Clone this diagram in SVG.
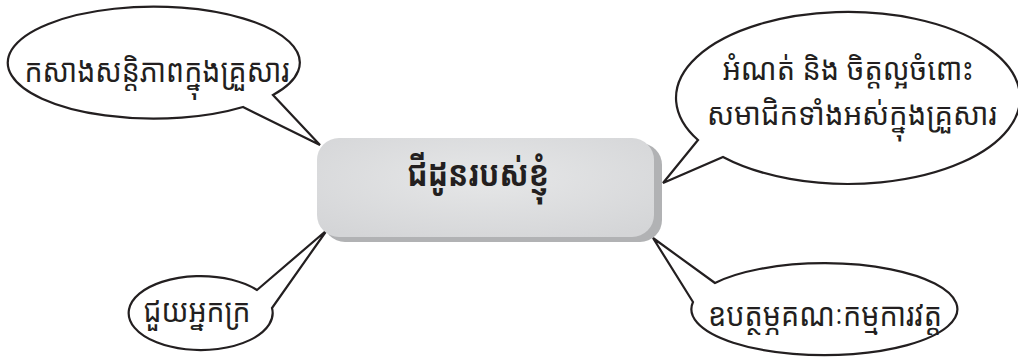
<svg xmlns="http://www.w3.org/2000/svg" width="1018" height="363" viewBox="0 0 1018 363">
<style>
.bub{fill:#fff;stroke:#231f20;stroke-width:2.2;stroke-linejoin:miter}
.t{font-family:"Noto Sans Khmer","Khmer OS","Noto Sans","DejaVu Sans",sans-serif;fill:#231f20;text-anchor:middle}
.lbl{font-size:33px}
.lbl2{font-size:31px}
.title{font-size:36px;font-weight:bold}
</style>
<defs>
<radialGradient id="g" cx="0.5" cy="0.4" r="0.7">
<stop offset="0" stop-color="#e6e7e8"/>
<stop offset="1" stop-color="#d4d5d7"/>
</radialGradient>
</defs>
<g id="connectors"></g>
<g id="n1">
<path class="bub" d="M243,107 L320,145 L273,95 A146,56 0 1 0 243,107 Z"/>
<text class="t lbl" x="157" y="82" textLength="265" lengthAdjust="spacingAndGlyphs">កសាងសន្តិភាពក្នុងគ្រួសារ</text>
</g>
<g id="n2">
<path class="bub" d="M698,140 L663,183 L723,157 A172,86 0 1 0 698,140 Z"/>
<text class="t lbl2" x="848" y="80" textLength="251" lengthAdjust="spacingAndGlyphs">អំណត់ និង ចិត្តល្អចំពោះ</text>
<text class="t lbl2" x="852" y="125" textLength="290" lengthAdjust="spacingAndGlyphs">សមាជិកទាំងអស់ក្នុងគ្រួសារ</text>
</g>
<g id="n3">
<path class="bub" d="M257,290 L327,230 L272,308 A72,37 0 1 1 257,290 Z"/>
<text class="t lbl" x="197" y="322" textLength="107" lengthAdjust="spacingAndGlyphs">ជួយអ្នកក្រ</text>
</g>
<g id="n4">
<path class="bub" d="M715,283 L653,238 L693,302 A133,46 0 1 0 715,283 Z"/>
<text class="t lbl" x="825" y="326" textLength="234" lengthAdjust="spacingAndGlyphs">ឧបត្ថម្ភគណៈកម្មការវត្ត</text>
</g>
<g id="center">
<rect x="323" y="143" width="339" height="99" rx="22" fill="#b1b2b4"/>
<rect x="317" y="138" width="337" height="99" rx="22" fill="url(#g)"/>
<text class="t title" x="478" y="186" textLength="142" lengthAdjust="spacingAndGlyphs">ជីដូនរបស់ខ្ញុំ</text>
</g>
</svg>
